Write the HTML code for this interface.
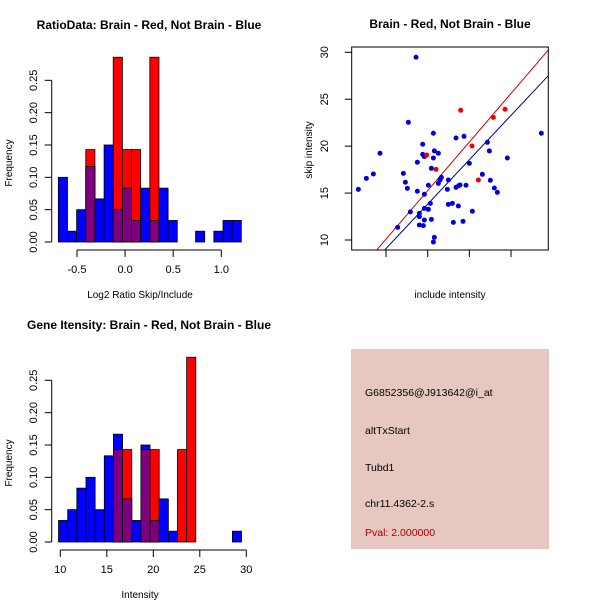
<!DOCTYPE html>
<html><head><meta charset="utf-8"><style>
body{margin:0;background:#fff}
svg{display:block;font-family:"Liberation Sans",sans-serif}
</style></head><body>
<svg id="c" width="600" height="600" xmlns="http://www.w3.org/2000/svg">
<rect width="600" height="600" fill="#fff"/>
</svg>
<script>
// Top-left histogram: ratio
const ratioBlue=[0.1,0.0167,0.05,0.1167,0.0667,0.15,0.05,0.0833,0.0333,0.0833,0.0333,0.0833,0.0333,0,0,0.0167,0,0.0167,0.0333,0.0333];
const ratioRed=[0,0,0,0.1429,0,0,0.2857,0.1429,0.1429,0,0.2857,0,0,0,0,0,0,0,0,0];
const ratioStart=-0.694, ratioWidth=0.0951;
const ratioTicks=[-0.5,0,0.5,1.0];
const ratioTickLabels=["-0.5","0.0","0.5","1.0"];
// Bottom-left histogram: intensity
const intBlue=[0.0333,0.05,0.0833,0.1,0.05,0.1333,0.1667,0.0667,0.0333,0.15,0.0333,0.0667,0.0167,0,0,0,0,0,0,0.0167];
const intRed=[0,0,0,0,0,0,0.1429,0.1429,0,0.1429,0.1429,0,0,0.1429,0.2857,0,0,0,0,0];
const intStart=9.81, intWidth=0.984;
const intTicks=[10,15,20,25,30];
const freqTicks=[0,0.05,0.1,0.15,0.2,0.25];
const freqTickLabels=["0.00","0.05","0.10","0.15","0.20","0.25"];
// Scatter
const blueX=[6.68,7.64,8.48,9.28,13.6,12.68,12.08,12.32,12.56,12.92,11.4,13.76,13.76,14.0,14.0,14.0,14.48,14.6,14.6,14.6,14.4,14.4,14.6,15.08,15.08,15.32,15.44,15.44,15.68,15.68,15.8,16.28,16.28,16.48,16.64,15.8,15.68,17.48,17.36,17.48,17.96,18.68,18.08,18.4,18.4,18.72,18.88,19.36,19.6,19.24,20.0,20.36,21.56,22.16,22.4,22.52,23.0,23.36,24.56,28.64];
const blueY=[15.4,16.57,17.03,19.24,29.47,22.54,17.1,16.15,15.5,13.0,11.35,18.28,15.19,12.84,12.49,11.6,11.53,12.13,13.37,14.87,20.2,19.13,18.88,15.83,13.27,13.9,12.2,17.64,21.37,18.74,19.49,19.24,16.04,16.39,16.68,10.28,9.79,16.39,15.4,13.8,13.9,13.62,11.88,20.87,15.61,15.79,15.86,21.05,15.83,11.99,18.17,13.06,17.0,20.41,19.49,16.36,15.54,15.08,18.74,21.37];
const redX=[18.96,14.88,16.0,20.32,22.88,24.28,21.08];
const redY=[23.82,19.06,17.53,20.02,23.07,23.93,16.39];
const fitSlope=[1.035,0.946];
const fitIntercept=[-0.26,-0.37];
const scatterYTicks=[10,15,20,25,30];

const svg=document.getElementById('c');
const NS="http://www.w3.org/2000/svg";
function el(tag,attrs,parent){const e=document.createElementNS(NS,tag);for(const k in attrs)e.setAttribute(k,attrs[k]);(parent||svg).appendChild(e);return e;}
function txt(s,x,y,attrs,parent){const t=el('text',Object.assign({x:x,y:y,'font-size':11,fill:'#000'},attrs||{}),parent);t.textContent=s;return t;}

function histogram(name,top,blue,red,start,width,sx,title,xlab,ticks,tickLabels){
  const g=el('g',{});
  
  
  const base=top+202, k=646.7;
  const sy=v=>base-v*k;
  const t=txt(title,149,top-11,{'font-weight':'bold','font-size':12,'text-anchor':'middle'},g);
  
  
  const draw=(i,v0,v1,col)=>{
    if(v1<=v0)return;
    const x0=sx(start+i*width),x1=sx(start+(i+1)*width);
    const r=el('rect',{x:x0,y:sy(v1),width:x1-x0,height:sy(v0)-sy(v1),fill:col,stroke:'#000','stroke-width':0.8},g);
    
    
  };
  for(let i=0;i<blue.length;i++){
    const b=blue[i],r=red[i],m=Math.min(b,r);
    if(b>0)draw(i,0,b,'#0000ff');
    if(r>0)draw(i,0,r,'#ff0000');
    if(m>0)draw(i,0,m,'#7f007f');
  }
  const ya=el('g',{},g);
  
  
  el('line',{x1:51.7,x2:51.7,y1:sy(0),y2:sy(0.25),stroke:'#000'},ya);
  freqTicks.forEach((v,i)=>{
    el('line',{x1:44.7,x2:51.7,y1:sy(v),y2:sy(v),stroke:'#000'},ya);
    txt(freqTickLabels[i],37,sy(v),{transform:`rotate(-90 37 ${sy(v)})`,'text-anchor':'middle'},ya);
  });
  const yl=txt('Frequency',12,top+123,{transform:`rotate(-90 12 ${top+123})`,'text-anchor':'middle','font-size':10},g);
  
  
  const xa=el('g',{},g);
  
  
  const ay=top+210;
  el('line',{x1:sx(ticks[0]),x2:sx(ticks[ticks.length-1]),y1:ay,y2:ay,stroke:'#000'},xa);
  ticks.forEach((v,i)=>{
    el('line',{x1:sx(v),x2:sx(v),y1:ay,y2:ay+7,stroke:'#000'},xa);
    txt(tickLabels[i],sx(v),ay+23,{'text-anchor':'middle'},xa);
  });
  const xl=txt(xlab,140,top+258,{'text-anchor':'middle','font-size':10},g);
  
  
}
histogram('ratio-histogram',40,ratioBlue,ratioRed,ratioStart,ratioWidth,v=>125.1+v*96.2,'RatioData: Brain - Red, Not Brain - Blue','Log2 Ratio Skip/Include',ratioTicks,ratioTickLabels);
histogram('intensity-histogram',340,intBlue,intRed,intStart,intWidth,v=>60.3+(v-10)*9.3,'Gene Itensity: Brain - Red, Not Brain - Blue','Intensity',intTicks,intTicks.map(String));

(function(){
  const g=el('g',{});
  
  
  const sx=v=>302.7+v*8.333, sy=v=>240-(v-10)*9.385;
  const L=351.7,R=548.3,T=47,B=250;
  const t=txt('Brain - Red, Not Brain - Blue',450,28,{'font-weight':'bold','font-size':12,'text-anchor':'middle'},g);
  
  
  const cp=el('clipPath',{id:'clp'},g);
  el('rect',{x:L,y:T,width:R-L,height:B-T},cp);
  const cols=['#cc0000','#00008b'];
  fitSlope.forEach((s,i)=>{
    const ln=el('line',{x1:sx(5),y1:sy(fitIntercept[i]+s*5),x2:sx(31),y2:sy(fitIntercept[i]+s*31),stroke:cols[i],'stroke-width':1,'clip-path':'url(#clp)'},g);
    
    
  });
  blueX.forEach((x,i)=>{
    const c=el('circle',{cx:sx(x),cy:sy(blueY[i]),r:2.5,fill:'#0000dd'},g);
    
    
  });
  redX.forEach((x,i)=>{
    const c=el('circle',{cx:sx(x),cy:sy(redY[i]),r:2.5,fill:'#ee0000'},g);
    
    
  });
  const box=el('rect',{x:L,y:T,width:R-L,height:B-T,fill:'none',stroke:'#000'},g);
  
  
  const ya=el('g',{},g);
  
  
  scatterYTicks.forEach(v=>{
    el('line',{x1:L-7,x2:L,y1:sy(v),y2:sy(v),stroke:'#000'},ya);
    txt(String(v),328,sy(v),{transform:`rotate(-90 328 ${sy(v)})`,'text-anchor':'middle'},ya);
  });
  const xa=el('g',{},g);
  
  
  [10,15,20,25].forEach(v=>el('line',{x1:sx(v),x2:sx(v),y1:B,y2:B+7,stroke:'#000'},xa));
  const yl=txt('skip intensity',312,150,{transform:'rotate(-90 312 150)','text-anchor':'middle','font-size':10},g);
  
  
  const xl=txt('include intensity',450,298,{'text-anchor':'middle','font-size':10},g);
  
  
})();
</script>
<svg width="600" height="600" style="position:absolute;left:0;top:0" xmlns="http://www.w3.org/2000/svg">
<g font-family="Liberation Sans, sans-serif" font-size="10.5">
<rect x="351" y="349" width="198" height="200" fill="#e6c8c0"/>
<text x="365" y="396">G6852356@J913642@i_at</text>
<text x="365" y="434">altTxStart</text>
<text x="365" y="471">Tubd1</text>
<text x="365" y="507">chr11.4362-2.s</text>
<text x="365" y="536" fill="#aa0000">Pval: 2.000000</text>
</g>
</svg>
</body></html>
